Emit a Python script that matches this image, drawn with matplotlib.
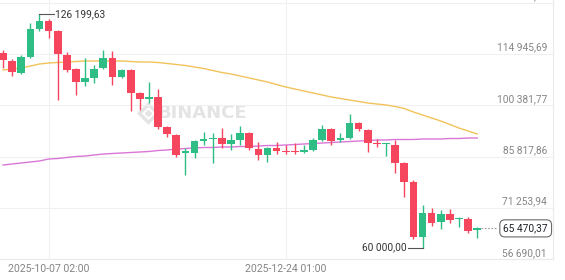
import matplotlib
matplotlib.use("Agg")
import matplotlib.pyplot as plt
import matplotlib.transforms as mtransforms

plt.rcParams['font.family'] = ['Roboto', 'DejaVu Sans']

# 3-day candles, BTC/USDT
opens = [115260, 112987, 109580, 114123, 122072, 124343, 121504, 114690, 110716, 107025,
         108161, 111000, 113839, 108445, 110432, 103902, 102199, 102767, 94250, 91978,
         86868, 86868, 90275, 90843, 91127, 89423, 90559, 92546, 88004, 86300,
         88288, 87436, 87436, 87152, 87720, 90559, 93682, 90559, 91127, 95385,
         93398, 89849, 89423, 89139, 84029, 78635, 63021, 69834, 67279, 69550,
         68131, 68131, 65008]
closes = [113271, 109864, 114123, 122072, 124343, 121504, 114974, 110432, 107025, 108161,
          110716, 113839, 108445, 110432, 103902, 102199, 102767, 94250, 92262, 86300,
          87436, 90275, 90843, 91127, 89423, 90559, 92546, 88288, 86300, 88288,
          87436, 87152, 87152, 87720, 90559, 93682, 90275, 91127, 95385, 93682,
          89707, 89565, 89707, 84029, 78635, 63021, 69834, 66995, 69550, 67847,
          68415, 64724, 65470.37]
highs = [116110, 113555, 114690, 123775, 126199.63, 124911, 121788, 115542, 111000, 113839,
         111851, 116110, 115826, 110716, 110716, 104186, 107025, 105038, 94534, 92262,
         88288, 90559, 92830, 92546, 93966, 92262, 94534, 92830, 89991, 88572,
         89991, 89139, 89707, 89139, 91127, 94817, 93966, 92546, 97940, 95669,
         93682, 90843, 89707, 90559, 84313, 79203, 72105, 71254, 70686, 70970,
         68699, 68699, 65860]
lows = [111000, 108729, 109296, 113839, 121504, 119517, 101915, 109864, 103334, 105890,
        106741, 110716, 106173, 108161, 98792, 99076, 101063, 93682, 91411, 85733,
        80622, 85449, 89139, 84029, 88288, 87720, 89139, 87720, 84881, 84313,
        86584, 86584, 86584, 86868, 87436, 90275, 89139, 89991, 90843, 93114,
        87152, 88572, 86017, 81190, 74377, 62453, 60000.00, 66144, 65292, 66995,
        65860, 64156, 62737]

ma_yellow = [110432, 110716, 111000, 111568, 112135, 112419, 112561, 112703, 112845, 112987,
             112987, 112987, 112987, 112987, 112845, 112703, 112703, 112561, 112277, 111994,
             111710, 111284, 110858, 110290, 109722, 109297, 108729, 108161, 107593, 107025,
             106315, 105606, 105038, 104470, 103902, 103335, 102767, 102341, 101915, 101489,
             101063, 100780, 100496, 100070, 99502, 98508, 97657, 96805, 95953, 94959,
             93966, 93114, 92262]
ma_pink = [83462, 83746, 84029, 84313, 84597, 85165, 85307, 85591, 85875, 86017,
           86300, 86584, 86726, 86868, 87010, 87152, 87294, 87578, 87720, 88004,
           88146, 88288, 88430, 88430, 88572, 88572, 88714, 88714, 88856, 88998,
           88998, 89139, 89281, 89423, 89565, 89707, 89849, 89991, 90133, 90275,
           90417, 90559, 90559, 90701, 90701, 90701, 90843, 90843, 90843, 90985,
           90985, 91127, 91127]

price_ticks = [56690.01, 71253.94, 85817.86, 100381.77, 114945.69, 129509.62]
time_idx = [5, 31]
time_labels = ['2025-10-07 02:00', '2025-12-24 01:00']


def fmt(v):
    return f"{v:,.2f}".replace(",", " ").replace(".", ",")


green = '#2EBD85'
red = '#F6465D'
txt_gray = '#858585'
grid_c = '#F0F0F0'

fig = plt.figure(figsize=(5.65, 2.8), dpi=100)
ax = fig.add_axes([0, 20.7 / 280, 553 / 565, 259.3 / 280])

n = len(opens)
xs = list(range(n))

# watermark
ax.text(0.285, 0.566, 'BINANCE', transform=ax.transAxes, fontsize=13,
        fontweight='bold', family='DejaVu Sans', color='#E4E4E4',
        ha='left', va='center', zorder=0)
ax.plot([0.2685], [0.566], marker='D', ms=9, mfc='none', mec='#E4E4E4',
        mew=2.4, transform=ax.transAxes, zorder=0)
ax.plot([0.2685], [0.566], marker='D', ms=3, color='#E4E4E4',
        transform=ax.transAxes, zorder=0)

# moving averages
ax.plot(xs, ma_yellow, color='#F2C35A', lw=1.0, zorder=2)
ax.plot(xs, ma_pink, color='#DA76D6', lw=1.0, zorder=2)

# candles
for i in xs:
    o, c, h, l = opens[i], closes[i], highs[i], lows[i]
    col = green if c >= o else red
    ax.vlines(i, l, h, color=col, lw=1.0, zorder=3)
    ax.bar(i, max(abs(c - o), 250), bottom=min(o, c), width=0.84,
           color=col, linewidth=0, zorder=3)

ax.set_xlim(-0.33, 60.31)
ax.set_ylim(56690.01, 130304.5)

ax.set_yticks(price_ticks)
ax.set_yticklabels([])
ax.tick_params(axis='y', length=0)
ax.set_xticks(time_idx)
ax.set_xticklabels(time_labels)
ax.tick_params(axis='x', length=0, pad=3.5, labelsize=7.6, colors=txt_gray)
ax.grid(True, color=grid_c, lw=0.8, zorder=0)
ax.set_axisbelow(True)

for s in ['top', 'left']:
    ax.spines[s].set_visible(False)
for s in ['right', 'bottom']:
    ax.spines[s].set_color('#EAEAEA')
    ax.spines[s].set_linewidth(0.8)

# price labels inside the chart
trans = mtransforms.blended_transform_factory(ax.transAxes, ax.transData)
off = mtransforms.offset_copy(trans, fig=fig, x=-6, y=1.5, units='dots')
for p in price_ticks:
    ax.text(1.0, p, fmt(p), transform=off, ha='right', va='bottom',
            fontsize=7.3, color=txt_gray)

# high / low markers
hi_i = highs.index(max(highs))
lo_i = lows.index(min(lows))
ax.plot([hi_i, hi_i + 1.55], [highs[hi_i]] * 2, color='#555555', lw=0.8, zorder=4)
ax.text(hi_i + 1.65, highs[hi_i], fmt(highs[hi_i]), ha='left', va='center',
        fontsize=7.3, color='#333333')
ax.plot([lo_i, lo_i - 1.6], [lows[lo_i]] * 2, color='#555555', lw=0.8, zorder=4)
ax.text(lo_i - 1.7, lows[lo_i], fmt(lows[lo_i]), ha='right', va='center',
        fontsize=7.3, color='#333333')

# current price
last = closes[-1]
ax.plot([n - 1 + 0.4, 54.2], [last, last], color='#9A9A9A', lw=0.8,
        ls=(0, (1.5, 1.5)), zorder=4)
ax.text(1.0, last, fmt(last), transform=mtransforms.offset_copy(
        trans, fig=fig, x=-5, y=0, units='dots'), ha='right', va='center',
        fontsize=7.3, color='#1E2329',
        bbox=dict(boxstyle='round,pad=0.35,rounding_size=0.5', fc='white',
                  ec='#6A6A6A', lw=0.8))

fig.savefig('out.png', dpi=100)
